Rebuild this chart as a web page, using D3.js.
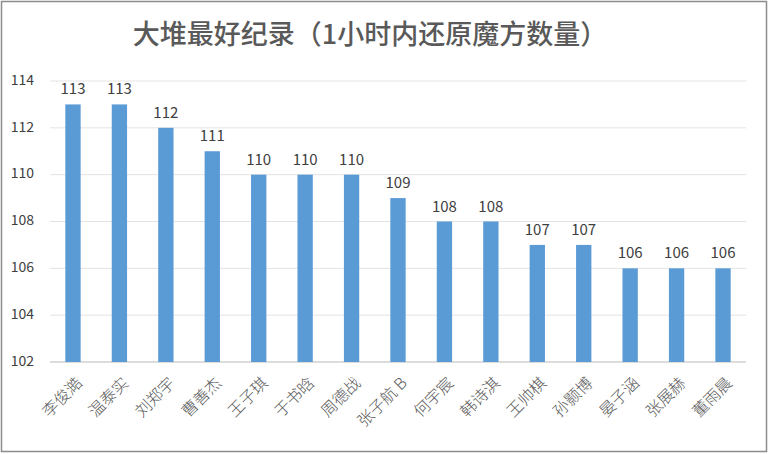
<!DOCTYPE html>
<html><head><meta charset="utf-8">
<script src="https://cdn.jsdelivr.net/npm/d3@7"></script>
<style>body{margin:0;background:#fff}</style></head>
<body><svg id="c" width="769" height="454"></svg>
<script>
const names = ["李俊澔","温泰实","刘郑宇","曹善杰","王子琪","于书晗","周德战","张子航 B","何宇宸","韩诗淇","王帅棋","孙颢博","晏子涵","张展赫","董雨晨"];
const values = [113,113,112,111,110,110,110,109,108,108,107,107,106,106,106];
const yTicks = [102,104,106,108,110,112,114];

const svg = d3.select("#c");
const font = "'Noto Sans CJK SC', sans-serif";
svg.append("rect").attr("x", 1.5).attr("y", 1.5).attr("width", 765).attr("height", 450)
  .attr("fill", "#fff").attr("stroke", "#8c8c8c").attr("stroke-width", 1.5);

const x = d3.scaleBand().domain(names).range([50, 746]).paddingInner(0.67).paddingOuter(0.33);
const y = d3.scaleLinear().domain([102, 114]).range([362, 81]);

// gridlines
svg.append("g").selectAll("line").data(yTicks).join("line")
  .attr("x1", 50).attr("x2", 746)
  .attr("y1", d => y(d)).attr("y2", d => y(d))
  .attr("stroke", d => d === 102 ? "#d0d0d0" : "#e3e3e3").attr("stroke-width", d => d === 102 ? 1.5 : 1);

svg.append("g").selectAll("text").data(yTicks).join("text")
  .attr("x", 34).attr("y", d => y(d)).attr("text-anchor", "end").attr("dominant-baseline", "middle")
  .style("font-family", font).style("font-size", "14px").attr("fill", "#404040").text(d => d);

svg.append("g").selectAll("rect").data(values).join("rect")
  .attr("x", (d, i) => x(names[i])).attr("width", x.bandwidth())
  .attr("y", d => y(d)).attr("height", d => y(102) - y(d)).attr("fill", "#5b9bd5");

svg.append("g").selectAll("text").data(values).join("text")
  .attr("x", (d, i) => x(names[i]) + x.bandwidth() / 2).attr("y", d => y(d) - 10)
  .attr("text-anchor", "middle").style("font-family", font).style("font-size", "15px")
  .attr("fill", "#404040").text(d => d);

svg.append("g").selectAll("text").data(names).join("text")
  .attr("transform", d => `translate(${x(d) + x.bandwidth() / 2 + 7},${381}) rotate(-45)`)
  .attr("text-anchor", "end").attr("dominant-baseline", "middle")
  .style("font-family", font).style("font-size", "16px").style("font-weight", 300)
  .attr("fill", "#595959").text(d => d);

svg.append("text").attr("x", 370).attr("y", 44).attr("text-anchor", "middle")
  .style("font-family", font).style("font-size", "27px").style("font-weight", 500)
  .attr("fill", "#595959").text("大堆最好纪录（1小时内还原魔方数量）");
</script></body></html>
